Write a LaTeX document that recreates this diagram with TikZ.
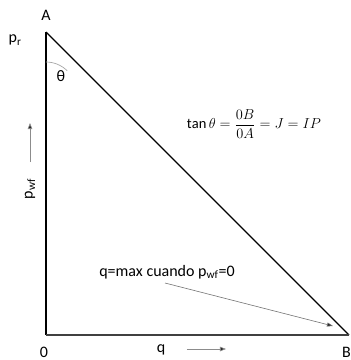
\documentclass[tikz,border=0pt]{standalone}
\usepackage{fontspec}
\setmainfont{Carlito}
\usepackage{amsmath}
\usetikzlibrary{arrows.meta}
\begin{document}
\begin{tikzpicture}[x=1pt,y=-1pt,
  lbl/.style={inner sep=0pt,font=\fontsize{16}{18}\selectfont},
  pointer/.style={draw=black!55,line width=0.6pt,-{Triangle[length=6pt,width=4pt,fill=black!85]}},
  axisarrow/.style={draw=black!45,line width=0.7pt,-{Triangle[length=6pt,width=4.5pt,fill=black!85]}}]
\useasboundingbox (0,0) rectangle (351,360);
\coordinate (A) at (46,32);
\coordinate (O) at (46,335);
\coordinate (B) at (349,335);
\draw[line width=1.4pt,black] (A) -- (B);
\draw[line width=1.4pt,black] (A) -- (O);
\draw[line width=1.8pt,black!75] (O) -- (B);
\draw[gray!70,line width=0.7pt] (46,62) arc[start angle=270,end angle=315,radius=30];
\node[lbl] (lA) at (46,15) {A};
\node[lbl] (lpr) at (15,40) {p\textsubscript{r}};
\node[lbl] (lth) at (61,76) {θ};
\node[lbl] (l0) at (44,352) {0};
\node[lbl] (lq) at (161,350) {q};
\node[lbl,anchor=east] (lB) at (351,352) {B};
\coordinate (qa1) at (187,349);
\coordinate (qa2) at (226,349);
\draw[axisarrow] (qa1) -- (qa2);
\node[lbl,rotate=90] (lpwf) at (30,189) {p\textsubscript{wf}};
\coordinate (pa1) at (30,162);
\coordinate (pa2) at (30,123);
\draw[axisarrow] (pa1) -- (pa2);
\node[inner sep=0pt,font=\fontsize{14.5}{16}\selectfont] (eq) at (254,124) {$\tan\theta=\dfrac{0B}{0A}=J=IP$};
\node[lbl,font=\fontsize{16}{18}\selectfont] (note) at (167,272) {q=max cuando p\textsubscript{wf}=0};
\coordinate (n1) at (165,283);
\coordinate (n2) at (333,326);
\draw[pointer] (n1) -- (n2);
\end{tikzpicture}
\end{document}
